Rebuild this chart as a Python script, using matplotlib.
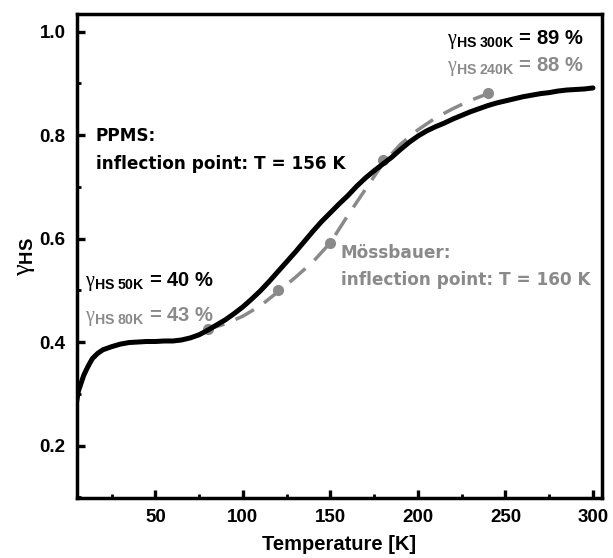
import matplotlib
matplotlib.use("Agg")
import matplotlib.pyplot as plt
from matplotlib.ticker import MultipleLocator

plt.rcParams['mathtext.fontset'] = 'custom'
plt.rcParams['mathtext.rm'] = 'Liberation Serif'
plt.rcParams['mathtext.bf'] = 'Liberation Sans:bold'
plt.rcParams['mathtext.it'] = 'Liberation Serif:italic'

# PPMS curve
ppms_T = [5, 6, 7.5, 9, 10.5, 12, 14, 17, 20, 25, 30, 35, 40, 45, 50, 55, 60, 65,
          70, 75, 80, 85, 90, 95, 100, 105, 110, 115, 120, 125, 130, 135, 140, 145,
          150, 155, 160, 165, 170, 175, 180, 185, 190, 195, 200, 205, 210, 215, 220,
          225, 230, 235, 240, 245, 250, 255, 260, 265, 270, 275, 280, 285, 290, 295, 300]
ppms_g = [0.285, 0.305, 0.320, 0.335, 0.346, 0.356, 0.368, 0.378, 0.385, 0.391, 0.396,
          0.399, 0.400, 0.401, 0.401, 0.402, 0.402, 0.404, 0.408, 0.414, 0.423, 0.433,
          0.443, 0.455, 0.468, 0.483, 0.499, 0.517, 0.536, 0.555, 0.574, 0.594, 0.614,
          0.633, 0.650, 0.667, 0.683, 0.701, 0.717, 0.731, 0.744, 0.757, 0.772, 0.786,
          0.798, 0.808, 0.816, 0.823, 0.831, 0.838, 0.845, 0.851, 0.857, 0.862, 0.866,
          0.870, 0.874, 0.877, 0.880, 0.882, 0.885, 0.887, 0.888, 0.889, 0.891]

# Mossbauer points and fit line
moss_T = [80, 120, 150, 180, 240]
moss_g = [0.425, 0.500, 0.591, 0.752, 0.882]
fit_T = [78, 80, 90, 100, 110, 120, 130, 140, 150, 160, 170, 180, 190, 200, 210,
         220, 230, 240]
fit_g = [0.423, 0.425, 0.435, 0.450, 0.470, 0.497, 0.525, 0.555, 0.592, 0.645, 0.695,
         0.745, 0.782, 0.810, 0.833, 0.851, 0.867, 0.880]

x_ticks = [50, 100, 150, 200, 250, 300]
y_ticks = [0.2, 0.4, 0.6, 0.8, 1.0]

BLACK = '#000000'
GREY = '#8a8a8a'

fig = plt.figure(figsize=(6.13, 5.58), dpi=100)
ax = fig.add_axes([0.125, 0.107, 0.8566, 0.868])

ax.plot(fit_T, fit_g, color=GREY, lw=2.5, dashes=(6, 3.5), zorder=2)
ax.plot(moss_T, moss_g, 'o', color=GREY, ms=7, zorder=2)
ax.plot(ppms_T, ppms_g, color=BLACK, lw=3.6, zorder=3, solid_capstyle='round')

ax.set_xlim(5, 305)
ax.set_ylim(0.098, 1.034)
ax.set_xticks(x_ticks)
ax.set_yticks(y_ticks)
ax.set_xticklabels([str(t) for t in x_ticks])
ax.set_yticklabels([f"{t:.1f}" for t in y_ticks])
ax.xaxis.set_minor_locator(MultipleLocator(25))
ax.yaxis.set_minor_locator(MultipleLocator(0.1))

for s in ax.spines.values():
    s.set_linewidth(2.5)
ax.tick_params(which='major', direction='in', length=6, width=2.4, pad=8,
               top=False, right=False)
ax.tick_params(which='minor', direction='in', length=3, width=2.0,
               top=False, right=False)
for lab in ax.get_xticklabels() + ax.get_yticklabels():
    lab.set_fontfamily('Liberation Sans')
    lab.set_fontweight('bold')
    lab.set_fontsize(13.5)

ax.set_xlabel('Temperature [K]', fontfamily='Liberation Sans', fontweight='bold',
              fontsize=14.5, labelpad=6)
ax.set_ylabel(r'$\mathrm{\gamma}_{\mathbf{HS}}$', fontfamily='Liberation Sans',
              fontweight='bold', fontsize=19, labelpad=2)

tk = dict(fontfamily='Liberation Sans', fontweight='bold', fontsize=14.5,
          va='center', ha='left')
ax.text(216.5, 0.984, r'$\mathrm{\gamma}_{\mathbf{HS\ 300K}}$ = 89 %', color=BLACK, **tk)
ax.text(216.5, 0.932, r'$\mathrm{\gamma}_{\mathbf{HS\ 240K}}$ = 88 %', color=GREY, **tk)
ax.text(10.0, 0.516, r'$\mathrm{\gamma}_{\mathbf{HS\ 50K}}$ = 40 %', color=BLACK, **tk)
ax.text(10.0, 0.450, r'$\mathrm{\gamma}_{\mathbf{HS\ 80K}}$ = 43 %', color=GREY, **tk)

ak = dict(fontfamily='DejaVu Sans', fontweight='bold', fontsize=12.2,
          va='center', ha='left', linespacing=1.65)
ax.text(16.0, 0.771, 'PPMS:\ninflection point: T = 156 K', color=BLACK, **ak)
ax.text(156.0, 0.546, 'Mössbauer:\ninflection point: T = 160 K', color=GREY, **ak)

fig.savefig('out.png', dpi=100)
